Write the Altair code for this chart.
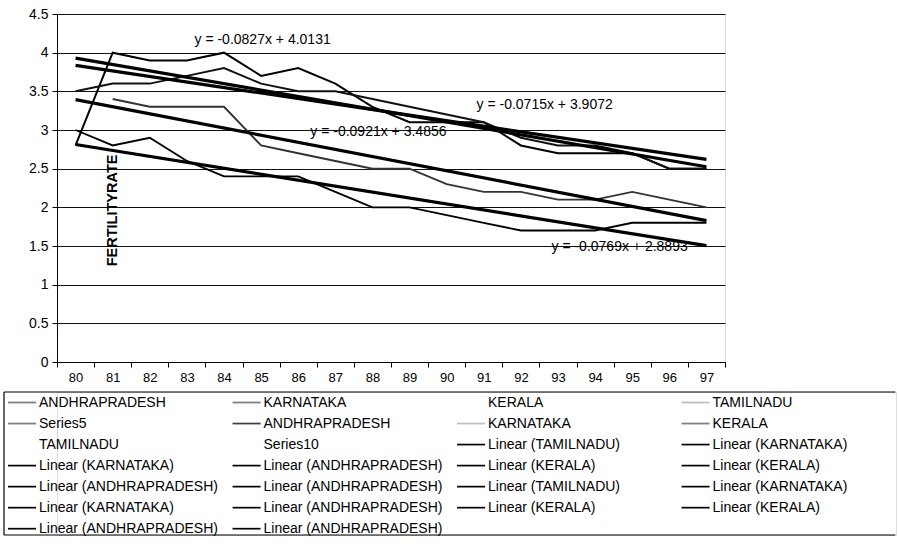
import json

import altair as alt
import pandas as pd

# ---- data -----------------------------------------------------------------
years = ["80", "81", "82", "83", "84", "85", "86", "87", "88",
         "89", "90", "91", "92", "93", "94", "95", "96", "97"]

andhrapradesh = [2.8, 4.0, 3.9, 3.9, 4.0, 3.7, 3.8, 3.6, 3.3,
                 3.1, 3.1, 3.1, 2.8, 2.7, 2.7, 2.7, 2.5, 2.5]
karnataka = [3.5, 3.6, 3.6, 3.7, 3.8, 3.6, 3.5, 3.5, 3.4,
             3.3, 3.2, 3.1, 2.9, 2.8, 2.8, 2.7, 2.5, 2.5]
tamilnadu = [None, 3.4, 3.3, 3.3, 3.3, 2.8, 2.7, 2.6, 2.5,
             2.5, 2.3, 2.2, 2.2, 2.1, 2.1, 2.2, 2.1, 2.0]
kerala = [3.0, 2.8, 2.9, 2.6, 2.4, 2.4, 2.4, 2.2, 2.0,
          2.0, 1.9, 1.8, 1.7, 1.7, 1.7, 1.8, 1.8, 1.8]

series_names = ["ANDHRAPRADESH", "KARNATAKA", "TAMILNADU", "KERALA"]

# linear trend lines y = slope * x + intercept, x = 1 .. number of years
trend_slope = [-0.0827, -0.0715, -0.0921, -0.0769]
trend_intercept = [4.0131, 3.9072, 3.4856, 2.8893]

legend_labels = [
    "ANDHRAPRADESH", "KARNATAKA", "KERALA", "TAMILNADU",
    "Series5", "ANDHRAPRADESH", "KARNATAKA", "KERALA",
    "TAMILNADU", "Series10", "Linear (TAMILNADU)", "Linear (KARNATAKA)",
    "Linear (KARNATAKA)", "Linear (ANDHRAPRADESH)", "Linear (KERALA)", "Linear (KERALA)",
    "Linear (ANDHRAPRADESH)", "Linear (ANDHRAPRADESH)", "Linear (TAMILNADU)", "Linear (KARNATAKA)",
    "Linear (KARNATAKA)", "Linear (ANDHRAPRADESH)", "Linear (KERALA)", "Linear (KERALA)",
    "Linear (ANDHRAPRADESH)", "Linear (ANDHRAPRADESH)",
]
legend_kind = [
    "thin", "thin", "none", "hair",
    "thin", "medium", "hair", "thin",
    "none", "none", "thick", "thick",
    "thick", "thick", "thick", "thick",
    "thick", "thick", "thick", "thick",
    "thick", "thick", "thick", "thick",
    "thick", "thick",
]

FONT = "Liberation Sans"

# ---- tables ---------------------------------------------------------------
series_rows = []
for name, vals in zip(series_names, [andhrapradesh, karnataka, tamilnadu, kerala]):
    for i, (yr, v) in enumerate(zip(years, vals)):
        series_rows.append({"series": name, "pos": i + 0.5, "year": yr, "value": v})
series_df = pd.DataFrame(series_rows)

trend_rows = []
for k, (m, b) in enumerate(zip(trend_slope, trend_intercept)):
    for xi in (1, len(years)):
        trend_rows.append({"trend": k, "pos": xi - 0.5, "value": m * xi + b})
trend_df = pd.DataFrame(trend_rows)

eq_df = pd.DataFrame({
    "label": [f"y = {m:.4f}x + {b:.4f}" for m, b in zip(trend_slope, trend_intercept)],
    # where each equation is written on the plot (x in year slots, y in rate units)
    "pos": [5.54, 13.14, 8.66, 15.16],
    "value": [4.16, 3.32, 2.975, 1.49],
})

legend_df = pd.DataFrame({
    "label": legend_labels,
    "kind": legend_kind,
    "col": [k % 4 for k in range(len(legend_labels))],
    "row": [k // 4 for k in range(len(legend_labels))],
})

# ---- main plot ------------------------------------------------------------
n = len(years)
x_ticks = [i * 0.5 for i in range(2 * n + 1)]
y_ticks = [i * 0.5 for i in range(10)]


def x_enc():
    return alt.X(
        "pos:Q",
        scale=alt.Scale(domain=[0, n], nice=False, zero=False),
        axis=alt.Axis(
            values=x_ticks, tickCount=len(x_ticks) + 2,
            labelExpr=f"datum.value % 1 ? {json.dumps(years)}[floor(datum.value)] : ''",
            tickOpacity={"condition": {"test": "datum.value % 1 == 0", "value": 1}, "value": 0},
            grid=False, title=None, domainColor="black", tickColor="black", tickSize=5,
            labelFontSize=13, labelColor="black", labelPadding=4, labelOverlap=False,
            labelFlush=False, labelBound=False, labelFont=FONT,
        ),
    )


def y_enc():
    return alt.Y(
        "value:Q",
        scale=alt.Scale(domain=[0, 4.5], nice=False, zero=False),
        axis=alt.Axis(
            values=y_ticks, tickCount=len(y_ticks) + 2, labelExpr="format(datum.value, '~g')",
            grid=True, gridColor="#111", gridWidth=1, title=None,
            domainColor="black", tickColor="black", tickSize=5,
            labelFontSize=14, labelColor="black", labelPadding=4, labelFont=FONT,
            labelOverlap=False, labelFlush=False,
        ),
    )


lines = alt.Chart(series_df).mark_line(color="black").encode(
    x=x_enc(), y=y_enc(), detail="series:N",
    strokeWidth=alt.StrokeWidth(
        "series:N",
        scale=alt.Scale(domain=series_names, range=[2.0, 1.7, 1.2, 1.9]),
        legend=None,
    ),
    color=alt.Color(
        "series:N",
        scale=alt.Scale(domain=series_names, range=["#000", "#111", "#333", "#000"]),
        legend=None,
    ),
)

trends = alt.Chart(trend_df).mark_line(color="black", strokeWidth=3.2).encode(
    x=x_enc(), y=y_enc(), detail="trend:N"
)

equations = alt.Chart(eq_df).mark_text(
    font=FONT, fontSize=14, color="black", align="center", baseline="middle"
).encode(x=x_enc(), y=y_enc(), text="label:N")

axis_name = alt.Chart(
    pd.DataFrame({"label": ["FERTILITYRATE"], "pos": [1.5], "value": [1.96]})
).mark_text(
    font=FONT, fontSize=14.5, fontWeight="bold", color="black", angle=270,
    align="center", baseline="middle",
).encode(x=x_enc(), y=y_enc(), text="label:N")

main = alt.layer(lines, trends, equations, axis_name).properties(width=668, height=348)

# ---- legend box -----------------------------------------------------------
lx = alt.Scale(domain=[0, 4], range=[-53, 845], nice=False, zero=False)
ly = alt.Scale(domain=[0, 6.8], reverse=True, nice=False, zero=False)

leg_base = alt.Chart(legend_df).transform_calculate(
    x0="datum.col + 0.018", x1="datum.col + 0.143", xt="datum.col + 0.156", yc="datum.row + 0.5"
)
kinds = ["none", "hair", "thin", "medium", "thick"]
leg_symbols = leg_base.mark_rule(color="black").encode(
    x=alt.X("x0:Q", scale=lx, axis=None),
    x2="x1:Q",
    y=alt.Y("yc:Q", scale=ly, axis=None),
    strokeWidth=alt.StrokeWidth(
        "kind:N", scale=alt.Scale(domain=kinds, range=[0, 1.0, 1.5, 2.2, 3.0]), legend=None
    ),
    opacity=alt.Opacity(
        "kind:N", scale=alt.Scale(domain=kinds, range=[0, 1, 1, 1, 1]), legend=None
    ),
)
leg_text = leg_base.mark_text(
    font=FONT, fontSize=14, color="black", align="left", baseline="middle"
).encode(
    x=alt.X("xt:Q", scale=lx, axis=None),
    y=alt.Y("yc:Q", scale=ly, axis=None),
    text="label:N",
)

frame = alt.Chart(pd.DataFrame({"edge": ["top", "bottom", "left"],
                                "xa": [0, 0, 0], "xb": [3.97, 3.97, 0],
                                "ya": [0, 6.8, 0], "yb": [0, 6.8, 6.8]})).mark_rule(
    color="black", strokeWidth=1.2
).encode(
    x=alt.X("xa:Q", scale=lx, axis=None), x2="xb:Q",
    y=alt.Y("ya:Q", scale=ly, axis=None), y2="yb:Q",
)

legend_box = alt.layer(frame, leg_symbols, leg_text).properties(width=839, height=143)

chart = alt.vconcat(main, legend_box, spacing=5).properties(
    padding={"left": 2, "top": 6, "right": 0, "bottom": 0}
).configure_view(strokeWidth=0).configure(font=FONT, background="white")

chart.save("out.html", embed_options={"renderer": "svg", "actions": False})
